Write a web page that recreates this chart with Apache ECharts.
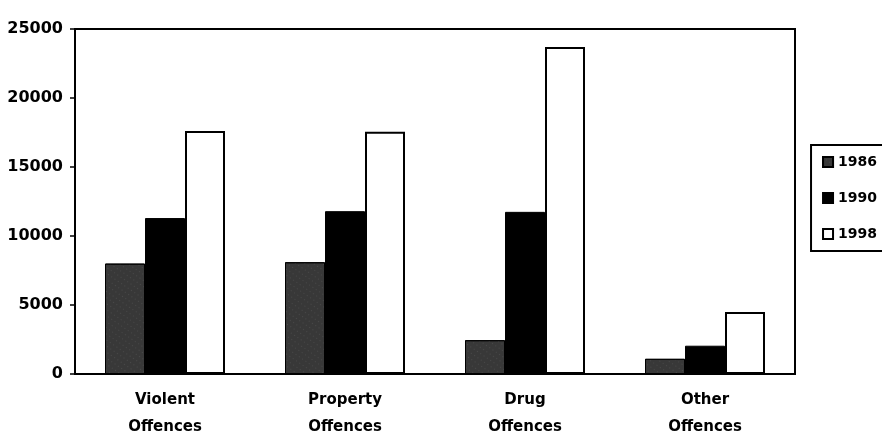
<!DOCTYPE html>
<html><head><meta charset="utf-8">
<script src="https://cdn.jsdelivr.net/npm/echarts@6/dist/echarts.min.js"></script>
<style>html,body{margin:0;padding:0;background:#fff}#c{width:882px;height:435px}</style>
</head><body><div id="c"></div>
<script>
const categories = ['Violent\nOffences', 'Property\nOffences', 'Drug\nOffences', 'Other\nOffences'];
const years = ['1986', '1990', '1998'];
const v1986 = [8000, 8100, 2450, 1100];
const v1990 = [11300, 11800, 11750, 2050];
const v1998 = [17600, 17550, 23700, 4500];
const yTicks = [0, 5000, 10000, 15000, 20000, 25000];

const FONT = '"DejaVu Sans", sans-serif';
const chart = echarts.init(document.getElementById('c'), null, {renderer: 'canvas'});
const fills = ['#383838', '#000000', '#ffffff'];
const data = [v1986, v1990, v1998];
chart.setOption({
  animation: false,
  backgroundColor: '#fff',
  grid: {left: 75, right: 87, top: 29, bottom: 61, show: true, borderColor: '#000', borderWidth: 2,
    containLabel: false, outerBoundsMode: 'none'},
  legend: {
    orient: 'vertical', right: -1, top: 145,
    data: years,
    itemWidth: 10, itemHeight: 10, itemGap: 22,
    borderColor: '#000', borderWidth: 2, padding: [10, 6, 10, 11],
    textStyle: {fontFamily: FONT, fontWeight: 'bold', fontSize: 14, color: '#000'},
    icon: 'rect'
  },
  xAxis: {
    type: 'category', data: categories,
    axisLine: {lineStyle: {color: '#000', width: 2}},
    axisTick: {show: false},
    axisLabel: {fontFamily: FONT, fontWeight: 'bold', fontSize: 15, color: '#000', lineHeight: 27, margin: 13}
  },
  yAxis: {
    type: 'value', min: yTicks[0], max: yTicks[yTicks.length - 1], interval: 5000,
    axisLine: {show: true, lineStyle: {color: '#000', width: 2}},
    axisTick: {show: true, length: 5, lineStyle: {color: '#000', width: 1.5}},
    splitLine: {show: false},
    axisLabel: {fontFamily: FONT, fontWeight: 'bold', fontSize: 16, color: '#000', margin: 12,
      formatter: v => String(v)}
  },
  series: years.map((y, i) => ({
    name: y, type: 'bar', data: data[i],
    barWidth: 40, barGap: '0%',
    itemStyle: Object.assign({color: fills[i], borderColor: '#000', borderWidth: i === 2 ? 2 : 1},
      i === 0 ? {decal: {symbol: 'rect', symbolSize: 0.5, dashArrayX: [1, 3], dashArrayY: [1, 4], rotation: 0.6, color: 'rgba(255,255,255,0.35)'}} : {})
  }))
});
</script></body></html>
